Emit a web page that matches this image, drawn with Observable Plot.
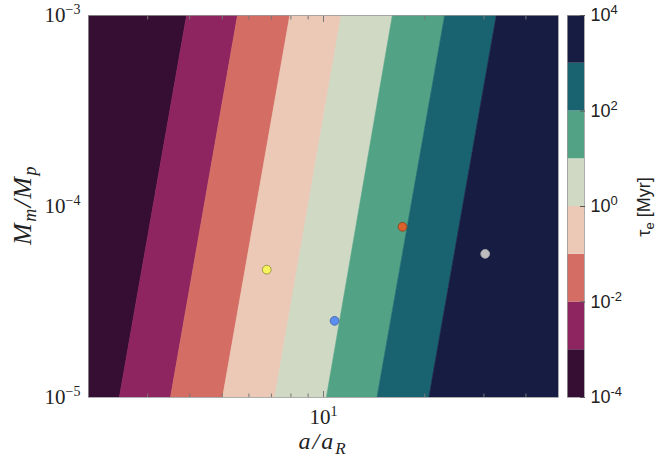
<!DOCTYPE html>
<html><head><meta charset="utf-8">
<script src="https://cdn.jsdelivr.net/npm/d3@7"></script>
<script src="https://cdn.jsdelivr.net/npm/@observablehq/plot@0.6"></script>
<style>
body{margin:0;background:#fff;}
#wrap{position:relative;width:658px;height:466px;}
#wrap svg{position:absolute;left:0;top:0;}
</style></head><body><div id="wrap"></div>
<script>
// ---- data ----
const tauLevels = [1e-4, 1e-3, 1e-2, 1e-1, 1e0, 1e1, 1e2, 1e3, 1e4]; // Myr
const bandColors = ["#360d33", "#8e2460", "#d46e64", "#ecc9b7", "#cfd9c4", "#52a285", "#196370", "#171c42"];
// a/a_R where tau_e crosses 1e-3 ... 1e3 Myr
const boundaryATop = [3.93, 5.57, 7.97, 11.33, 16.09, 23.02, 32.78];    // at Mm/Mp = 1e-3
const boundaryABottom = [2.48, 3.52, 5.03, 7.19, 10.24, 14.48, 20.66];  // at Mm/Mp = 1e-5
const aDomain = [2, 50];
const massDomain = [1e-5, 1e-3];
const moonA = [6.78, 10.79, 17.18, 30.26];
const moonMass = [4.67e-5, 2.52e-5, 7.83e-5, 5.65e-5];
const moonFill = ["#f7f35c", "#5b8ef0", "#d9612c", "#bdbdbd"];
const moonStroke = ["#8a8838", "#3d5f9c", "#8a3d1c", "#a8a8a8"];
const xMinorTicks = [3, 4, 5, 6, 7, 8, 9, 20, 30, 40];
const xMajorTicks = [10];
const yTicks = [1e-5, 1e-4, 1e-3];
const cbTicks = [1e-4, 1e-2, 1e0, 1e2, 1e4];

// ---- build band polygons ----
const bandRows = [];
for (let i = 0; i < bandColors.length; i++) {
  const lt = i === 0 ? aDomain[0] : boundaryATop[i - 1];
  const rt = i === bandColors.length - 1 ? aDomain[1] : boundaryATop[i];
  const lb = i === 0 ? aDomain[0] : boundaryABottom[i - 1];
  const rb = i === bandColors.length - 1 ? aDomain[1] : boundaryABottom[i];
  bandRows.push({band: i, m: massDomain[0], x1: lb, x2: rb, c: bandColors[i]});
  bandRows.push({band: i, m: massDomain[1], x1: lt, x2: rt, c: bandColors[i]});
}
const moons = moonA.map((a, i) => ({a, m: moonMass[i], f: moonFill[i], s: moonStroke[i]}));
const pow10 = d => "10^" + Math.round(Math.log10(d));

const serif = "Liberation Serif, DejaVu Serif, serif";
const sans = "Liberation Sans, Arial, sans-serif";

const main = Plot.plot({
  width: 658, height: 466,
  marginLeft: 88, marginRight: 100, marginTop: 15, marginBottom: 69,
  style: {background: "transparent", overflow: "visible"},
  x: {type: "log", domain: aDomain, label: null},
  y: {type: "log", domain: massDomain, label: null},
  color: {type: "identity"},
  marks: [
    Plot.areaX(bandRows, {y: "m", x1: "x1", x2: "x2", z: "band", fill: "c", stroke: "c", strokeWidth: 0.6, clip: true}),
    Plot.dot(moons, {x: "a", y: "m", r: 4.4, fill: "f", stroke: "s", strokeWidth: 0.8}),
    Plot.frame({stroke: "#9a9a9a", strokeWidth: 0.8}),
    Plot.axisX({anchor: "bottom", ticks: xMinorTicks, tickSize: -3.5, tickFormat: () => "", label: null, stroke: "#777"}),
    Plot.axisX({anchor: "top", ticks: xMinorTicks, tickSize: -3.5, tickFormat: () => "", label: null, stroke: "#777"}),
    Plot.axisX({anchor: "bottom", ticks: xMajorTicks, tickSize: -6, tickFormat: () => "", label: null, stroke: "#777"}),
    Plot.axisX({anchor: "top", ticks: xMajorTicks, tickSize: -6, tickFormat: () => "", label: null, stroke: "#777"}),
    Plot.axisX({anchor: "bottom", ticks: xMajorTicks, tickSize: 0, tickPadding: 12, tickFormat: pow10, label: null, fill: "#222"}),
    Plot.axisY({anchor: "left", ticks: yTicks, tickSize: 0, tickPadding: 8, tickFormat: pow10, label: null, fill: "#222"})
  ]
});

const cbRows = bandColors.map((c, i) => ({lo: tauLevels[i], hi: tauLevels[i + 1], c}));
const cb = Plot.plot({
  width: 658, height: 466,
  marginLeft: 567, marginRight: 74, marginTop: 15, marginBottom: 69,
  style: {background: "transparent", overflow: "visible"},
  x: {domain: [0, 1], axis: null},
  y: {type: "log", domain: [tauLevels[0], tauLevels[tauLevels.length - 1]], label: null},
  color: {type: "identity"},
  marks: [
    Plot.rect(cbRows, {x1: 0, x2: 1, y1: "lo", y2: "hi", fill: "c"}),
    Plot.frame({stroke: "#9a9a9a", strokeWidth: 0.8}),
    Plot.axisY({anchor: "right", ticks: cbTicks, tickSize: -5, tickFormat: () => "", label: null, stroke: "#555"}),
    Plot.axisY({anchor: "right", ticks: cbTicks, tickSize: 0, tickPadding: 6, tickFormat: pow10, label: null, fill: "#222"})
  ]
});

const wrap = document.getElementById("wrap");
wrap.appendChild(main);
wrap.appendChild(cb);

// superscripts on tick labels
function supify(svg, family, size, supSize, rise, minus) {
  d3.select(svg).selectAll("text").each(function() {
    const t = this.textContent;
    if (!t.includes("^")) return;
    const [b, e] = t.split("^");
    const s = d3.select(this);
    s.text(null).style("font-family", family).style("font-size", size + "px");
    s.append("tspan").text(b);
    s.append("tspan").attr("dy", -rise).style("font-size", supSize + "px").text(minus ? e.replace("-", "\u2212") : e);
  });
}
supify(main, serif, 21, 14, 8, true);
supify(cb, sans, 18, 13, 7, false);

// axis titles
const ms = d3.select(main);
const xl = ms.append("text").attr("x", 323).attr("y", 449).attr("text-anchor", "middle")
  .style("font-family", serif).style("font-style", "italic").style("font-size", "24px")
  .style("letter-spacing", "2px").attr("fill", "#222");
xl.append("tspan").text("a/a");
xl.append("tspan").attr("dy", 5).style("font-size", "17px").text("R");

const yl = ms.append("text").attr("transform", "translate(31,205) rotate(-90)").attr("text-anchor", "middle")
  .style("font-family", serif).style("font-style", "italic").style("font-size", "26px")
  .style("letter-spacing", "1.5px").attr("fill", "#222");
yl.append("tspan").text("M");
yl.append("tspan").attr("dy", 5).style("font-size", "18px").text("m");
yl.append("tspan").attr("dy", -5).text("/M");
yl.append("tspan").attr("dy", 5).style("font-size", "18px").text("p");

const cl = d3.select(cb).append("text").attr("transform", "translate(650,207) rotate(-90)").attr("text-anchor", "middle")
  .style("font-family", sans).style("font-size", "18px").attr("fill", "#222");
cl.append("tspan").text("\u03c4");
cl.append("tspan").attr("dy", 3.5).style("font-size", "13px").text("e");
cl.append("tspan").attr("dy", -3.5).text(" [Myr]");
</script>
</body></html>
